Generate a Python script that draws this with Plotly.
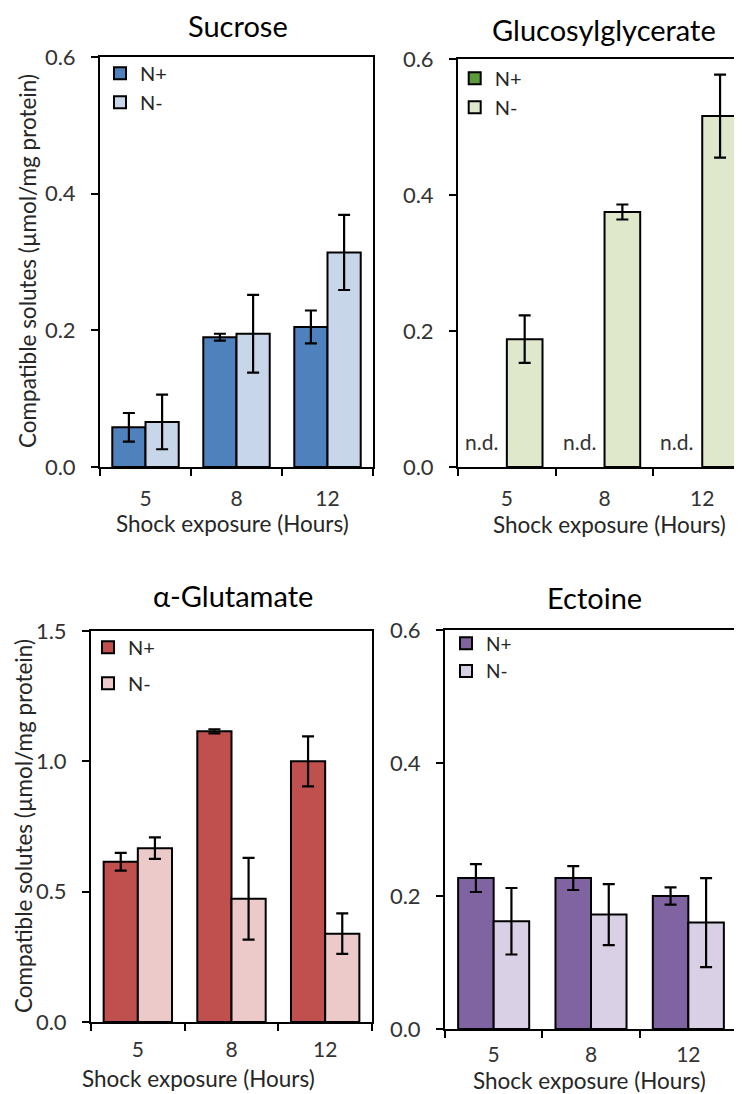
import plotly.graph_objects as go

# ---------------- data ----------------
hours = ["5", "8", "12"]

sucrose_nplus = [0.058, 0.190, 0.205]
sucrose_nplus_err = [0.021, 0.005, 0.024]
sucrose_nminus = [0.066, 0.195, 0.314]
sucrose_nminus_err = [0.040, 0.057, 0.055]

gg_nplus = [None, None, None]          # n.d.
gg_nplus_labels = ["n.d.", "n.d.", "n.d."]
gg_nminus = [0.188, 0.375, 0.516]
gg_nminus_err = [0.035, 0.011, 0.061]

glu_nplus = [0.615, 1.115, 1.000]
glu_nplus_err = [0.034, 0.008, 0.096]
glu_nminus = [0.667, 0.473, 0.339]
glu_nminus_err = [0.041, 0.157, 0.078]

ect_nplus = [0.227, 0.227, 0.200]
ect_nplus_err = [0.021, 0.018, 0.013]
ect_nminus = [0.162, 0.172, 0.160]
ect_nminus_err = [0.050, 0.046, 0.067]

titles = ["Sucrose", "Glucosylglycerate", "α-Glutamate", "Ectoine"]
series_names = ["N+", "N-"]
y_title = "Compatible solutes (µmol/mg protein)"
x_title = "Shock exposure (Hours)"

# ---------------- style ----------------
PAGE_W, PAGE_H = 742, 1094
OFF = 8                      # default body margin of the html page
W, H = PAGE_W - OFF, PAGE_H - OFF
FONT = "Lato, 'Open Sans', sans-serif"
TXT = "#262626"
TICK = "#333333"


def px_x(p):
    return (p - OFF) / W


def px_y(p):
    return 1 - (p - OFF) / H


panels = [
    dict(s="", dom=(100, 373, 57, 467), yr=[0, 0.6], dt=0.2,
         col=("#4F81BD", "#C8D6EA"), data=(sucrose_nplus, sucrose_nplus_err, sucrose_nminus, sucrose_nminus_err),
         xr=[-0.5, 2.5], leg=(100, 53.8), title=(238, 25), xt=(232, 523), so=12, mirror_y=True),
    dict(s="2", dom=(458, 742, 59, 467), yr=[0, 0.6], dt=0.2,
         col=("#5B9B3B", "#DFE8CB"), data=(gg_nplus, None, gg_nminus, gg_nminus_err),
         xr=[-0.5, 2.407], leg=(454.7, 58.8), title=(604, 29), xt=(609, 524), so=12, mirror_y=False),
    dict(s="3", dom=(91, 372, 631, 1022), yr=[0, 1.5], dt=0.5,
         col=("#C0504D", "#ECCAC9"), data=(glu_nplus, glu_nplus_err, glu_nminus, glu_nminus_err),
         xr=[-0.5, 2.5], leg=(88, 627.8), title=(233, 595), xt=(198, 1078), so=8, mirror_y=True),
    dict(s="4", dom=(445, 737, 630, 1029), yr=[0, 0.6], dt=0.2,
         col=("#8064A2", "#D9D0E5"), data=(ect_nplus, ect_nplus_err, ect_nminus, ect_nminus_err),
         xr=[-0.5, 2.5], leg=(446, 624.5), title=(594, 597), xt=(589, 1080), so=6, mirror_y=True),
]

fig = go.Figure()
layout = dict(
    width=W, height=H, margin=dict(l=0, r=0, t=0, b=0, autoexpand=False),
    paper_bgcolor="white", plot_bgcolor="white",
    barmode="group", bargap=0.27, bargroupgap=0,
    font=dict(family=FONT, color=TXT),
)
annotations = []

for i, p in enumerate(panels):
    s = p["s"]
    xa, ya = "x" + s, "y" + s
    legname = "legend" + s
    vp, ep, vm, em = p["data"]
    for j, (vals, errs, color) in enumerate([(vp, ep, p["col"][0]), (vm, em, p["col"][1])]):
        kw = {}
        if errs is not None:
            kw["error_y"] = dict(type="data", array=errs, visible=True, color="black",
                                 thickness=2.2, width=6)
        fig.add_trace(go.Bar(
            x=hours, y=vals, name=series_names[j], xaxis=xa, yaxis=ya,
            marker=dict(color=color, line=dict(color="black", width=2)),
            legend=legname, showlegend=True,
            legendgroup=("g%d_%d" % (i, j)) if s == "3" else None,
            **kw,
        ))
    l, r, t, b = p["dom"]
    layout["xaxis" + s] = dict(
        domain=[px_x(l), px_x(r)], anchor=ya, type="category", automargin=False,
        range=p["xr"], tickson="boundaries", ticks="outside", ticklen=7, tickwidth=2,
        tickcolor="black", showline=True, linecolor="black", linewidth=2, mirror=True,
        showgrid=False, zeroline=False,
        tickfont=dict(family=FONT, size=21, color=TICK),
        ticklabelstandoff=p["so"],
    )
    layout["yaxis" + s] = dict(
        domain=[px_y(b), px_y(t)], anchor=xa, range=p["yr"], dtick=p["dt"], tickformat=".1f",
        automargin=False,
        ticks="outside", ticklen=7, tickwidth=2, tickcolor="black",
        showline=True, linecolor="black", linewidth=2, mirror=p["mirror_y"],
        showgrid=False, zeroline=False,
        tickfont=dict(family=FONT, size=22, color=TICK),
        ticklabelstandoff=11,
    )
    lx, ly = p["leg"]
    layout[legname] = dict(
        x=px_x(lx), y=px_y(ly), xanchor="left", yanchor="top",
        bgcolor="rgba(0,0,0,0)", borderwidth=0,
        font=dict(family=FONT, size=19 if s == "4" else 20, color=TXT),
        traceorder="grouped" if s == "3" else "normal",
        tracegroupgap=7,
    )
    tx, ty = p["title"]
    annotations.append(dict(text=titles[i], x=px_x(tx), y=px_y(ty), xref="paper", yref="paper",
                            xanchor="center", yanchor="middle", showarrow=False,
                            font=dict(family=FONT, size=29, color="black")))
    xx, xy = p["xt"]
    annotations.append(dict(text=x_title, x=px_x(xx), y=px_y(xy), xref="paper", yref="paper",
                            xanchor="center", yanchor="middle", showarrow=False,
                            font=dict(family=FONT, size=22.5, color=TXT)))

for (cx, cy) in [(27, 261), (23, 826)]:
    annotations.append(dict(text=y_title, x=px_x(cx), y=px_y(cy), xref="paper", yref="paper",
                            xanchor="center", yanchor="middle", textangle=-90, showarrow=False,
                            font=dict(family=FONT, size=22.5, color=TXT)))

for k, lab in enumerate(gg_nplus_labels):
    annotations.append(dict(text=lab, x=k - 0.26, y=0.037, xref="x2", yref="y2",
                            xanchor="center", yanchor="middle", showarrow=False,
                            font=dict(family=FONT, size=21, color=TICK)))

layout["annotations"] = annotations
fig.update_layout(**layout)
fig.write_html("out.html")
